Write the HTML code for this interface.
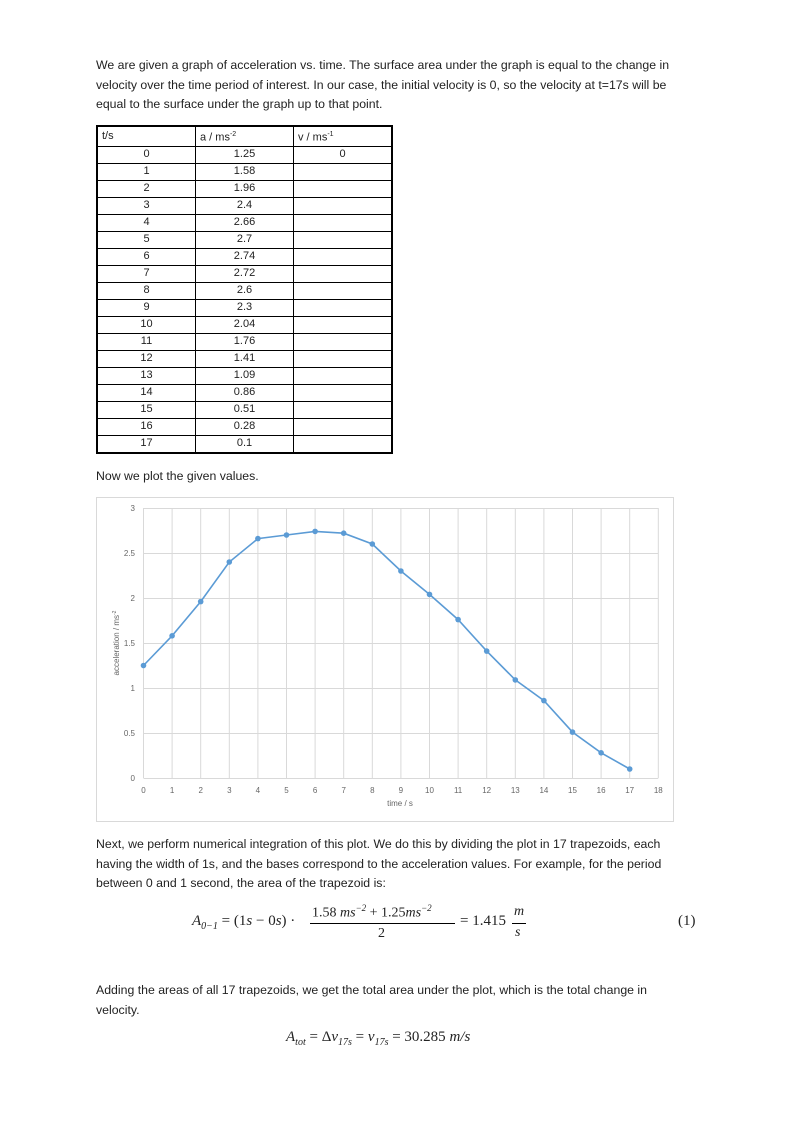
<!DOCTYPE html>
<html><head><meta charset="utf-8"><style>
body{margin:0;background:#fff;width:794px;height:1123px;position:relative;font-family:"Liberation Sans",sans-serif;color:#222;}
.p{position:absolute;left:96px;width:600px;font-size:12.3px;line-height:19.5px;}
table{position:absolute;left:96px;top:125px;border-collapse:collapse;font-size:11px;table-layout:fixed;border:2px solid #000;}
td{border:1px solid #000;height:16px;padding:0;text-align:center;width:97px;line-height:15px;overflow:hidden;}
tr:first-child td{text-align:left;padding-left:4px;width:93px;}
.m{position:absolute;font-family:"Liberation Serif",serif;font-style:italic;font-size:15px;white-space:nowrap;}
</style></head><body>
<div class="p" style="top:56px">We are given a graph of acceleration vs. time. The surface area under the graph is equal to the change in velocity over the time period of interest. In our case, the initial velocity is 0, so the velocity at t=17s will be equal to the surface under the graph up to that point.</div>
<table>
<tr><td>t/s</td><td>a / ms<sup style="font-size:7px">-2</sup></td><td>v / ms<sup style="font-size:7px">-1</sup></td></tr>
<tr><td>0</td><td>1.25</td><td>0</td></tr>
<tr><td>1</td><td>1.58</td><td></td></tr>
<tr><td>2</td><td>1.96</td><td></td></tr>
<tr><td>3</td><td>2.4</td><td></td></tr>
<tr><td>4</td><td>2.66</td><td></td></tr>
<tr><td>5</td><td>2.7</td><td></td></tr>
<tr><td>6</td><td>2.74</td><td></td></tr>
<tr><td>7</td><td>2.72</td><td></td></tr>
<tr><td>8</td><td>2.6</td><td></td></tr>
<tr><td>9</td><td>2.3</td><td></td></tr>
<tr><td>10</td><td>2.04</td><td></td></tr>
<tr><td>11</td><td>1.76</td><td></td></tr>
<tr><td>12</td><td>1.41</td><td></td></tr>
<tr><td>13</td><td>1.09</td><td></td></tr>
<tr><td>14</td><td>0.86</td><td></td></tr>
<tr><td>15</td><td>0.51</td><td></td></tr>
<tr><td>16</td><td>0.28</td><td></td></tr>
<tr><td>17</td><td>0.1</td><td></td></tr>
</table>
<div class="p" style="top:467px">Now we plot the given values.</div>
<svg style="position:absolute;left:0;top:0" width="794" height="1123" font-family="Liberation Sans" font-size="8" fill="#666">
<rect x="96.5" y="497.5" width="577" height="324" fill="none" stroke="#d9d9d9"/>
<g stroke="#d9d9d9" stroke-width="1">
<line x1="143.5" y1="508" x2="143.5" y2="778"/><line x1="172.1" y1="508" x2="172.1" y2="778"/><line x1="200.7" y1="508" x2="200.7" y2="778"/><line x1="229.3" y1="508" x2="229.3" y2="778"/><line x1="257.9" y1="508" x2="257.9" y2="778"/><line x1="286.5" y1="508" x2="286.5" y2="778"/><line x1="315.1" y1="508" x2="315.1" y2="778"/><line x1="343.7" y1="508" x2="343.7" y2="778"/><line x1="372.3" y1="508" x2="372.3" y2="778"/><line x1="400.9" y1="508" x2="400.9" y2="778"/><line x1="429.5" y1="508" x2="429.5" y2="778"/><line x1="458.1" y1="508" x2="458.1" y2="778"/><line x1="486.7" y1="508" x2="486.7" y2="778"/><line x1="515.3" y1="508" x2="515.3" y2="778"/><line x1="543.9" y1="508" x2="543.9" y2="778"/><line x1="572.5" y1="508" x2="572.5" y2="778"/><line x1="601.1" y1="508" x2="601.1" y2="778"/><line x1="629.7" y1="508" x2="629.7" y2="778"/><line x1="658.3" y1="508" x2="658.3" y2="778"/>
<line x1="143.5" y1="508.5" x2="658.3" y2="508.5"/><line x1="143.5" y1="553.5" x2="658.3" y2="553.5"/><line x1="143.5" y1="598.5" x2="658.3" y2="598.5"/><line x1="143.5" y1="643.5" x2="658.3" y2="643.5"/><line x1="143.5" y1="688.5" x2="658.3" y2="688.5"/><line x1="143.5" y1="733.5" x2="658.3" y2="733.5"/><line x1="143.5" y1="778.5" x2="658.3" y2="778.5"/>
</g>
<g text-anchor="middle">
<text x="143.5" y="793">0</text><text x="172.1" y="793">1</text><text x="200.7" y="793">2</text><text x="229.3" y="793">3</text><text x="257.9" y="793">4</text><text x="286.5" y="793">5</text><text x="315.1" y="793">6</text><text x="343.7" y="793">7</text><text x="372.3" y="793">8</text><text x="400.9" y="793">9</text><text x="429.5" y="793">10</text><text x="458.1" y="793">11</text><text x="486.7" y="793">12</text><text x="515.3" y="793">13</text><text x="543.9" y="793">14</text><text x="572.5" y="793">15</text><text x="601.1" y="793">16</text><text x="629.7" y="793">17</text><text x="658.3" y="793">18</text>
<text x="400" y="806">time / s</text>
</g>
<g text-anchor="end">
<text x="135" y="781">0</text><text x="135" y="736">0.5</text><text x="135" y="691">1</text><text x="135" y="646">1.5</text><text x="135" y="601">2</text><text x="135" y="556">2.5</text><text x="135" y="511">3</text>
</g>
<text transform="translate(119,643) rotate(-90)" text-anchor="middle">acceleration / ms<tspan font-size="5" dy="-3">-2</tspan></text>
<polyline fill="none" stroke="#5b9bd5" stroke-width="1.6" points="143.5,665.5 172.1,635.8 200.7,601.6 229.3,562 257.9,538.6 286.5,535 315.1,531.4 343.7,533.2 372.3,544 400.9,571 429.5,594.4 458.1,619.6 486.7,651.1 515.3,679.9 543.9,700.6 572.5,732.1 601.1,752.8 629.7,769"/>
<g fill="#5b9bd5">
<circle cx="143.5" cy="665.5" r="2.8"/><circle cx="172.1" cy="635.8" r="2.8"/><circle cx="200.7" cy="601.6" r="2.8"/><circle cx="229.3" cy="562" r="2.8"/><circle cx="257.9" cy="538.6" r="2.8"/><circle cx="286.5" cy="535" r="2.8"/><circle cx="315.1" cy="531.4" r="2.8"/><circle cx="343.7" cy="533.2" r="2.8"/><circle cx="372.3" cy="544" r="2.8"/><circle cx="400.9" cy="571" r="2.8"/><circle cx="429.5" cy="594.4" r="2.8"/><circle cx="458.1" cy="619.6" r="2.8"/><circle cx="486.7" cy="651.1" r="2.8"/><circle cx="515.3" cy="679.9" r="2.8"/><circle cx="543.9" cy="700.6" r="2.8"/><circle cx="572.5" cy="732.1" r="2.8"/><circle cx="601.1" cy="752.8" r="2.8"/><circle cx="629.7" cy="769" r="2.8"/>
</g>
</svg>
<div class="p" style="top:835px">Next, we perform numerical integration of this plot. We do this by dividing the plot in 17 trapezoids, each having the width of 1s, and the bases correspond to the acceleration values. For example, for the period between 0 and 1 second, the area of the trapezoid is:</div>
<div class="m" style="left:192px;top:913px">A<sub style="font-size:10px">0−1</sub> <span style="font-style:normal">= (1</span>s <span style="font-style:normal">− 0</span>s<span style="font-style:normal">) ·</span></div>
<div class="m" style="left:312px;top:903px;font-size:14px"><span style="font-style:normal">1.58</span> ms<sup style="font-size:9px">−2</sup> <span style="font-style:normal">+ 1.25</span>ms<sup style="font-size:9px">−2</sup></div>
<div style="position:absolute;left:310px;top:923px;width:145px;border-top:1px solid #000"></div>
<div class="m" style="left:378px;top:926px;font-style:normal;font-size:14px">2</div>
<div class="m" style="left:460px;top:913px"><span style="font-style:normal">= 1.415</span></div>
<div class="m" style="left:514px;top:904px;font-size:14px">m</div>
<div style="position:absolute;left:512px;top:923px;width:14px;border-top:1px solid #000"></div>
<div class="m" style="left:515px;top:925px;font-size:14px">s</div>
<div class="m" style="left:678px;top:913px;font-style:normal">(1)</div>
<div class="p" style="top:981px;width:592px">Adding the areas of all 17 trapezoids, we get the total area under the plot, which is the total change in velocity.</div>
<div class="m" style="left:286px;top:1029px">A<sub style="font-size:10px">tot</sub> <span style="font-style:normal">= Δ</span>v<sub style="font-size:10px">17s</sub> <span style="font-style:normal">=</span> v<sub style="font-size:10px">17s</sub> <span style="font-style:normal">= 30.285</span> m/s</div>
</body></html>
